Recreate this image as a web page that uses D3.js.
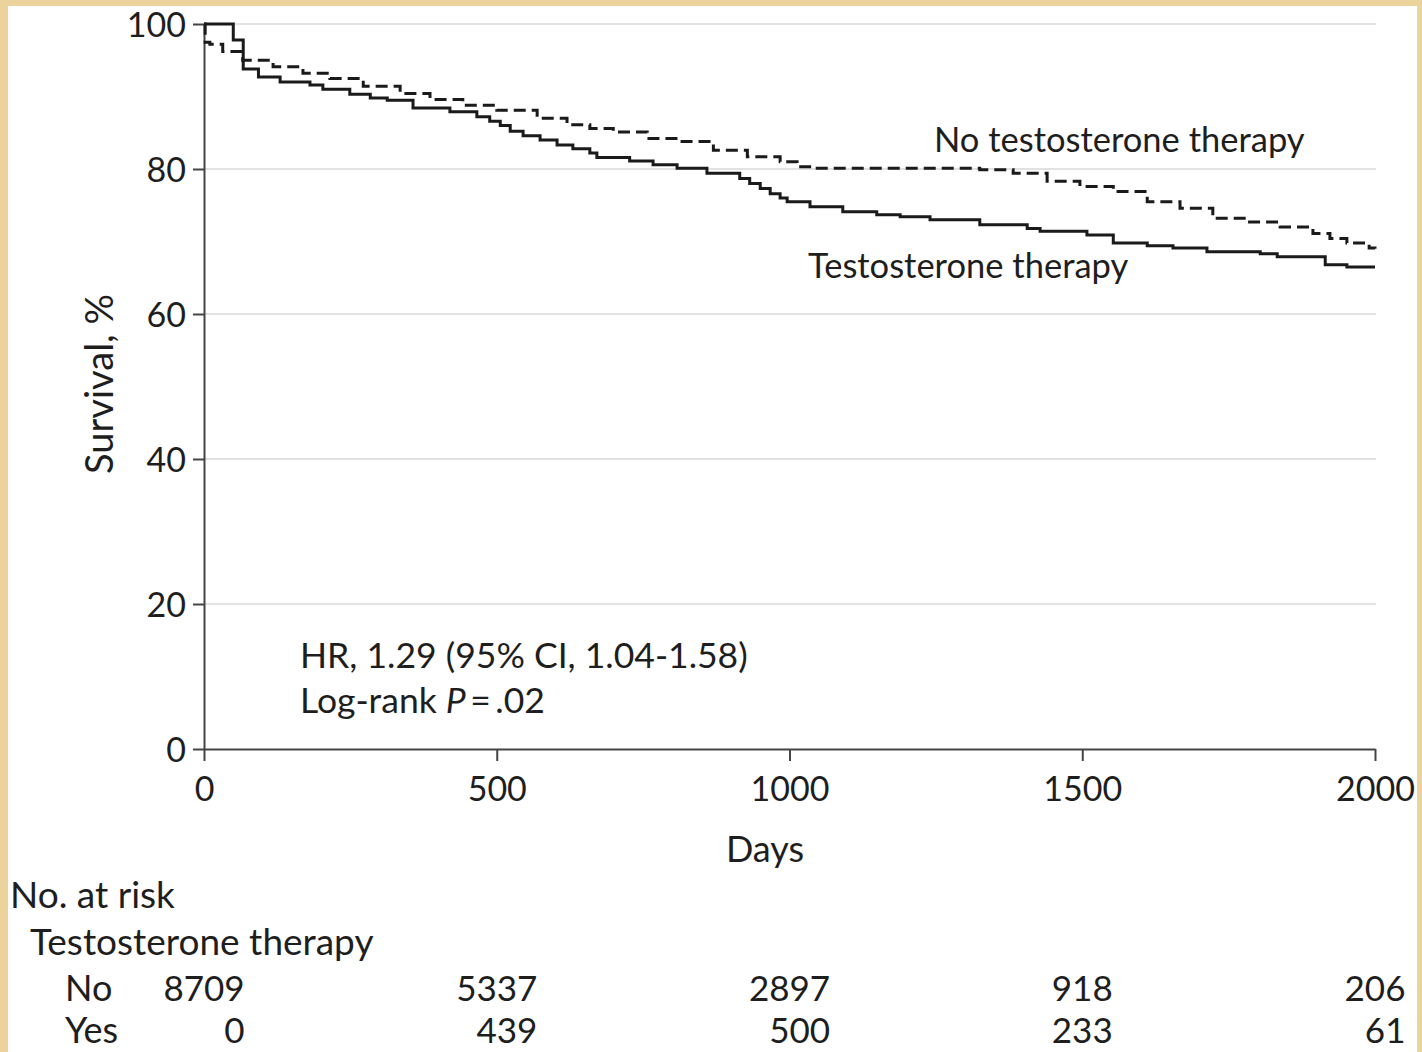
<!DOCTYPE html>
<html><head><meta charset="utf-8">
<script src="https://cdn.jsdelivr.net/npm/d3@7"></script>
<style>body{margin:0;background:#ebd39b}svg{display:block}text{font-family:Lato,"Open Sans",sans-serif;fill:#1e1e1e}</style>
</head><body>
<script>
// ---- data ----
const xTicks = [0, 500, 1000, 1500, 2000];
const yTicks = [0, 20, 40, 60, 80, 100];
const treatedDays = [0,50,67,93,130,181,203,249,284,313,357,420,466,488,506,523,545,574,603,630,659,671,727,767,808,859,915,932,950,967,984,996,1035,1091,1149,1189,1240,1325,1406,1428,1508,1553,1611,1655,1713,1804,1833,1915,1952,2000];
const treatedSurv = [100,97.8,93.8,92.7,92.0,91.6,91.0,90.3,89.8,89.5,88.4,87.9,87.2,86.6,86.0,85.2,84.6,84.0,83.3,82.8,82.2,81.6,81.1,80.6,80.1,79.4,78.7,78.0,77.3,76.6,76.0,75.5,74.8,74.1,73.7,73.4,73.0,72.3,71.8,71.4,70.9,69.8,69.4,69.1,68.6,68.3,67.9,66.8,66.5,66.5];
const untreatedDays = [0,2,10,32,66,118,169,215,272,335,386,442,500,569,620,659,699,757,813,870,928,984,1013,1040,1325,1382,1440,1496,1553,1611,1667,1723,1781,1838,1894,1923,1952,1990,2000];
const untreatedSurv = [100,97.5,97.2,96.2,95.0,94.1,93.2,92.5,91.4,90.4,89.6,88.8,88.1,87.0,86.1,85.6,85.1,84.2,83.8,82.6,81.7,81.0,80.3,80.1,79.9,79.4,78.3,77.6,76.9,75.5,74.6,73.2,72.7,72.0,71.1,70.4,69.8,69.1,69.0];
const riskGroups = ["No", "Yes"];
const riskNo = [8709, 5337, 2897, 918, 206];
const riskYes = [0, 439, 500, 233, 61];

const W = 1422, H = 1052;
const svg = d3.select("body").append("svg").attr("width", W).attr("height", H);
svg.append("rect").attr("width", W).attr("height", H).attr("fill", "#ebd39b");
svg.append("rect").attr("x", 8).attr("y", 6).attr("width", 1409).attr("height", H - 6).attr("fill", "#fff");

const x = d3.scaleLinear().domain([0, 2000]).range([204, 1375]);
const y = d3.scaleLinear().domain([0, 100]).range([749, 24]);
const FS = 34;

// grid
svg.append("g").selectAll("line").data(yTicks.filter(d => d > 0)).join("line")
  .attr("x1", x(0)).attr("x2", x(2000) + 1).attr("y1", d => y(d)).attr("y2", d => y(d))
  .attr("stroke", "#e2e2e2").attr("stroke-width", 2);

// axes
const ya = svg.append("g").attr("transform", `translate(${x(0)},0)`)
  .call(d3.axisLeft(y).tickValues(yTicks).tickSize(11).tickSizeOuter(0).tickPadding(7));
const xa = svg.append("g").attr("transform", `translate(0,${y(0)})`)
  .call(d3.axisBottom(x).tickValues(xTicks).tickFormat(d3.format("d")).tickSize(12).tickSizeOuter(0).tickPadding(16));
[ya, xa].forEach(g => {
  g.select(".domain").attr("stroke", "#444").attr("stroke-width", 2);
  g.selectAll(".tick line").attr("stroke", "#444").attr("stroke-width", 2);
  g.selectAll(".tick text").attr("font-size", FS).attr("font-family", "Lato").attr("fill", "#1e1e1e");
});
ya.selectAll(".tick text").attr("dy", "0.36em");

// curves
const line = d3.line().x(d => x(d[0])).y(d => y(d[1])).curve(d3.curveStepAfter);
svg.append("path").datum(untreatedDays.map((d, i) => [d, untreatedSurv[i]]))
  .attr("d", line).attr("fill", "none").attr("stroke", "#1a1a1a").attr("stroke-width", 3)
  .attr("stroke-dasharray", "12,6");
svg.append("path").datum(treatedDays.map((d, i) => [d, treatedSurv[i]]))
  .attr("d", line).attr("fill", "none").attr("stroke", "#1a1a1a").attr("stroke-width", 3);

// labels
const txt = (s, xx, yy, fs, anchor) => svg.append("text").attr("x", xx).attr("y", yy)
  .attr("font-size", fs).attr("text-anchor", anchor || "start").text(s);
txt("No testosterone therapy", 934, 152, 34.5);
txt("Testosterone therapy", 808, 278, 34.5);
txt("HR, 1.29 (95% CI, 1.04-1.58)", 300, 668, 35.5);
const lr = txt("Log-rank ", 300, 713, 35.5);
lr.append("tspan").attr("font-style", "italic").text("P");
lr.append("tspan").text("\u2009=\u2009.02");
txt("Days", 765, 862, 36, "middle");
svg.append("text").attr("transform", "translate(113,384) rotate(-90)")
  .attr("font-size", 38).attr("text-anchor", "middle").text("Survival, %");

// risk table
txt("No. at risk", 10, 908, 37);
txt("Testosterone therapy", 30, 955, 37);
const rows = [riskNo, riskYes];
const rowY = [1001, 1043];
riskGroups.forEach((g, i) => txt(g, 65, rowY[i], 36));
xTicks.forEach((t, j) => {
  const tmp = txt(String(riskNo[j]), 0, -100, 35);
  const w = tmp.node().getComputedTextLength();
  tmp.remove();
  rows.forEach((r, i) => txt(String(r[j]), x(t) + w / 2, rowY[i], 35, "end"));
});
</script>
</body></html>
